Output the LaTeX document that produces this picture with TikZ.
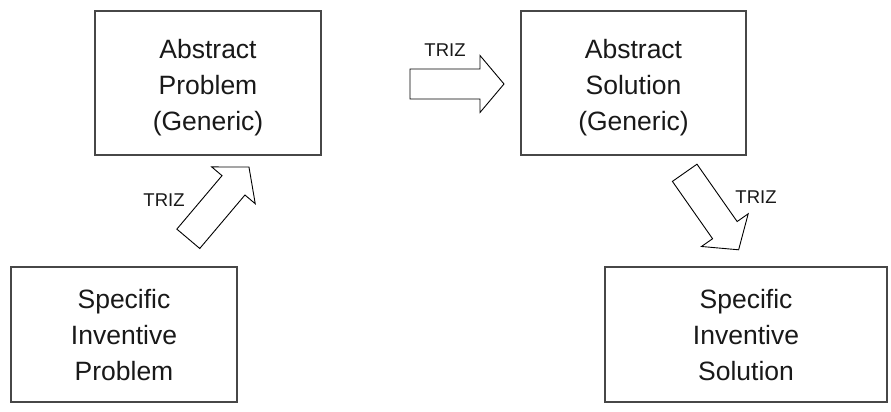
\documentclass[tikz,border=0pt]{standalone}
\usepackage{fontspec}
\setmainfont{Liberation Sans}
\begin{document}
\begin{tikzpicture}[x=1pt,y=1pt,
  box/.style={draw=black!72, line width=1.4pt, rectangle, inner sep=0pt},
  boxtext/.style={align=center, font=\fontsize{26.5}{36}\selectfont, inner sep=0pt, text=black!90},
  lbl/.style={font=\fontsize{18.5}{22}\selectfont, inner sep=0pt, text=black!90},
  arrowline/.style={draw=black, line width=0.9pt, line join=miter, fill=white},
  blockarrow/.pic={\draw[arrowline] (0,-15)--(70,-15)--(70,-28.5)--(94,0)--(70,28.5)--(70,15)--(0,15)--cycle;}
]
\useasboundingbox[fill=white] (0,0) rectangle (891,412);
\node[box, minimum width=226pt, minimum height=144pt] (ap) at (208,329) {};
\node[box, minimum width=225pt, minimum height=144pt] (as) at (633.5,329) {};
\node[box, minimum width=226pt, minimum height=135pt] (sp) at (124,77.5) {};
\node[box, minimum width=282pt, minimum height=135pt] (ss) at (746,77.5) {};
\node[boxtext] (apt) at ([yshift=-5pt]ap.center) {Abstract\\Problem\\(Generic)};
\node[boxtext] (ast) at ([yshift=-5pt]as.center) {Abstract\\Solution\\(Generic)};
\node[boxtext] (spt) at ([yshift=-1pt]sp.center) {Specific\\Inventive\\Problem};
\node[boxtext] (sst) at ([yshift=-1pt]ss.center) {Specific\\Inventive\\Solution};
\coordinate (a1) at (410,328);
\coordinate (a2) at (188.3,173.2);
\coordinate (a3) at (684.7,239.2);
\pic[rotate=0] at (a1) {blockarrow};
\pic[rotate=49.8] at (a2) {blockarrow};
\pic[rotate=-55] at (a3) {blockarrow};
\node[lbl] (t1) at (445,362) {TRIZ};
\node[lbl] (t2) at (164,212) {TRIZ};
\node[lbl] (t3) at (756,215) {TRIZ};
\end{tikzpicture}
\end{document}
